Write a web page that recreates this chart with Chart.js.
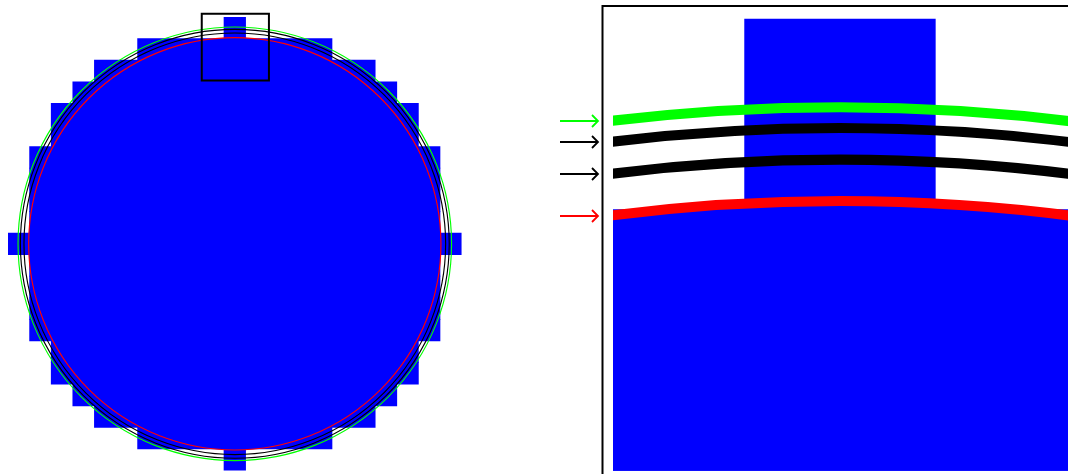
<!DOCTYPE html>
<html>
<head>
<meta charset="utf-8">
<script src="https://cdn.jsdelivr.net/npm/chart.js@4.4.0/dist/chart.umd.min.js"></script>
<style>
  html, body { margin: 0; padding: 0; width: 1068px; height: 474px; overflow: hidden; background: #fff; }
  #main { position: absolute; left: 0; top: 0; width: 480px; height: 480px; }
  #zoom { position: absolute; left: 550px; top: 0; width: 560px; height: 490px; }
</style>
</head>
<body>
<div id="main"><canvas id="mainchart"></canvas></div>
<div id="zoom"><canvas id="zoomchart"></canvas></div>
<script>
// rasterised disc: one entry per pixel row (row 0 on top), first / last filled column
var rows     = [0, 1, 2, 3, 4, 5, 6, 7, 8, 9, 10, 11, 12, 13, 14, 15, 16, 17, 18, 19, 20]
var rowStart = [10, 6, 4, 3, 2, 2, 1, 1, 1, 1, 0, 1, 1, 1, 1, 2, 2, 3, 4, 6, 10]
var rowEnd   = [10, 14, 16, 17, 18, 18, 19, 19, 19, 19, 20, 19, 19, 19, 19, 18, 18, 17, 16, 14, 10]

// smooth circles drawn over the pixels (grid units)
var circleCenter = [10.5, 10.5]
var circleRadius = [10.036, 9.927, 9.761, 9.544]
var circleColor  = ['#00ff00', '#000000', '#000000', '#ff0000']
var diskRadius   = 9.544

// region shown in the zoomed panel
var zoomBox = { x0: 8.97, x1: 12.08, y0: -0.15, y1: 2.94 }

var BLUE = '#0000ff'

const cells = () => rows.map((r, i) => ({ y: r + 0.5, x: [rowStart[i], rowEnd[i] + 1] }))

// one tick per grid line so bars are exactly one row thick
const gridTicks = (scale) => { scale.ticks = rows.concat([rows.length]).map(v => ({ value: v })) }

const circlesPlugin = {
    id: 'circles',
    beforeDatasetsDraw(chart) {
        var ctx = chart.ctx, a = chart.chartArea, xs = chart.scales.x, ys = chart.scales.y
        var cx = xs.getPixelForValue(circleCenter[0]), cy = ys.getPixelForValue(circleCenter[1])
        var r = xs.getPixelForValue(circleCenter[0] + diskRadius) - cx
        ctx.save()
        ctx.beginPath()
        ctx.rect(a.left, a.top, a.right - a.left, a.bottom - a.top)
        ctx.clip()
        ctx.fillStyle = BLUE
        ctx.beginPath()
        ctx.arc(cx, cy, r, 0, Math.PI * 2)
        ctx.fill()
        ctx.restore()
    },
    afterDatasetsDraw(chart) {
        var ctx = chart.ctx, a = chart.chartArea, xs = chart.scales.x, ys = chart.scales.y
        var unit = xs.getPixelForValue(1) - xs.getPixelForValue(0)
        var cx = xs.getPixelForValue(circleCenter[0]), cy = ys.getPixelForValue(circleCenter[1])
        ctx.save()
        ctx.beginPath()
        ctx.rect(a.left, a.top, a.right - a.left, a.bottom - a.top)
        ctx.clip()
        ctx.lineWidth = unit * 0.053
        circleRadius.forEach((rad, i) => {
            ctx.strokeStyle = circleColor[i]
            ctx.beginPath()
            ctx.arc(cx, cy, rad * unit, 0, Math.PI * 2)
            ctx.stroke()
        })
        ctx.restore()
    }
}

const boxPlugin = {
    id: 'zoombox',
    afterDraw(chart) {
        var ctx = chart.ctx, xs = chart.scales.x, ys = chart.scales.y
        var x0 = xs.getPixelForValue(zoomBox.x0), x1 = xs.getPixelForValue(zoomBox.x1)
        var y0 = ys.getPixelForValue(zoomBox.y0), y1 = ys.getPixelForValue(zoomBox.y1)
        ctx.save()
        ctx.strokeStyle = '#000'
        ctx.lineWidth = 2
        ctx.strokeRect(x0, y0, x1 - x0, y1 - y0)
        ctx.restore()
    }
}

const framePlugin = {
    id: 'frame',
    afterDraw(chart) {
        var ctx = chart.ctx, a = chart.chartArea, xs = chart.scales.x, ys = chart.scales.y
        ctx.save()
        ctx.strokeStyle = '#000'
        ctx.lineWidth = 2
        ctx.strokeRect(a.left - 10.5, a.top - 11, a.right - a.left + 21, a.bottom - a.top + 22)
        // arrows pointing at where each circle leaves the panel edge
        var xmin = xs.min
        ctx.lineWidth = 1.8
        circleRadius.forEach((rad, i) => {
            var dx = circleCenter[0] - xmin
            var v = circleCenter[1] - Math.sqrt(rad * rad - dx * dx)
            var y = Math.round(ys.getPixelForValue(v))
            var x1 = a.left - 53, x2 = a.left - 15
            ctx.strokeStyle = circleColor[i]
            ctx.beginPath()
            ctx.moveTo(x1, y)
            ctx.lineTo(x2, y)
            ctx.moveTo(x2 - 6, y - 6)
            ctx.lineTo(x2, y)
            ctx.lineTo(x2 - 6, y + 6)
            ctx.stroke()
        })
        ctx.restore()
    }
}

const makeChart = (el, xmin, xmax, ymin, ymax, padding, extra) => new Chart(el, {
    type: 'bar',
    data: {
        datasets: [{
            data: cells(),
            backgroundColor: BLUE,
            borderWidth: 0,
            barPercentage: 1,
            categoryPercentage: 1
        }]
    },
    options: {
        indexAxis: 'y',
        responsive: true,
        maintainAspectRatio: false,
        animation: false,
        layout: { padding: padding },
        plugins: { legend: { display: false }, tooltip: { enabled: false } },
        scales: {
            x: { type: 'linear', min: xmin, max: xmax, display: false, afterBuildTicks: gridTicks },
            y: { type: 'linear', min: ymin, max: ymax, reverse: true, offset: false, display: false, afterBuildTicks: gridTicks }
        }
    },
    plugins: [circlesPlugin, extra]
})

makeChart($('#mainchart'), 0, 21, 0, 21, { left: 8, top: 17, right: 18.4, bottom: 9.4 }, boxPlugin)
makeChart($('#zoomchart'), 9.31, 11.748, -0.0105, 2.3686, { left: 63, top: 17, right: 32, bottom: 19.3 }, framePlugin)

function $(sel) { return document.querySelector(sel) }
</script>
</body>
</html>
